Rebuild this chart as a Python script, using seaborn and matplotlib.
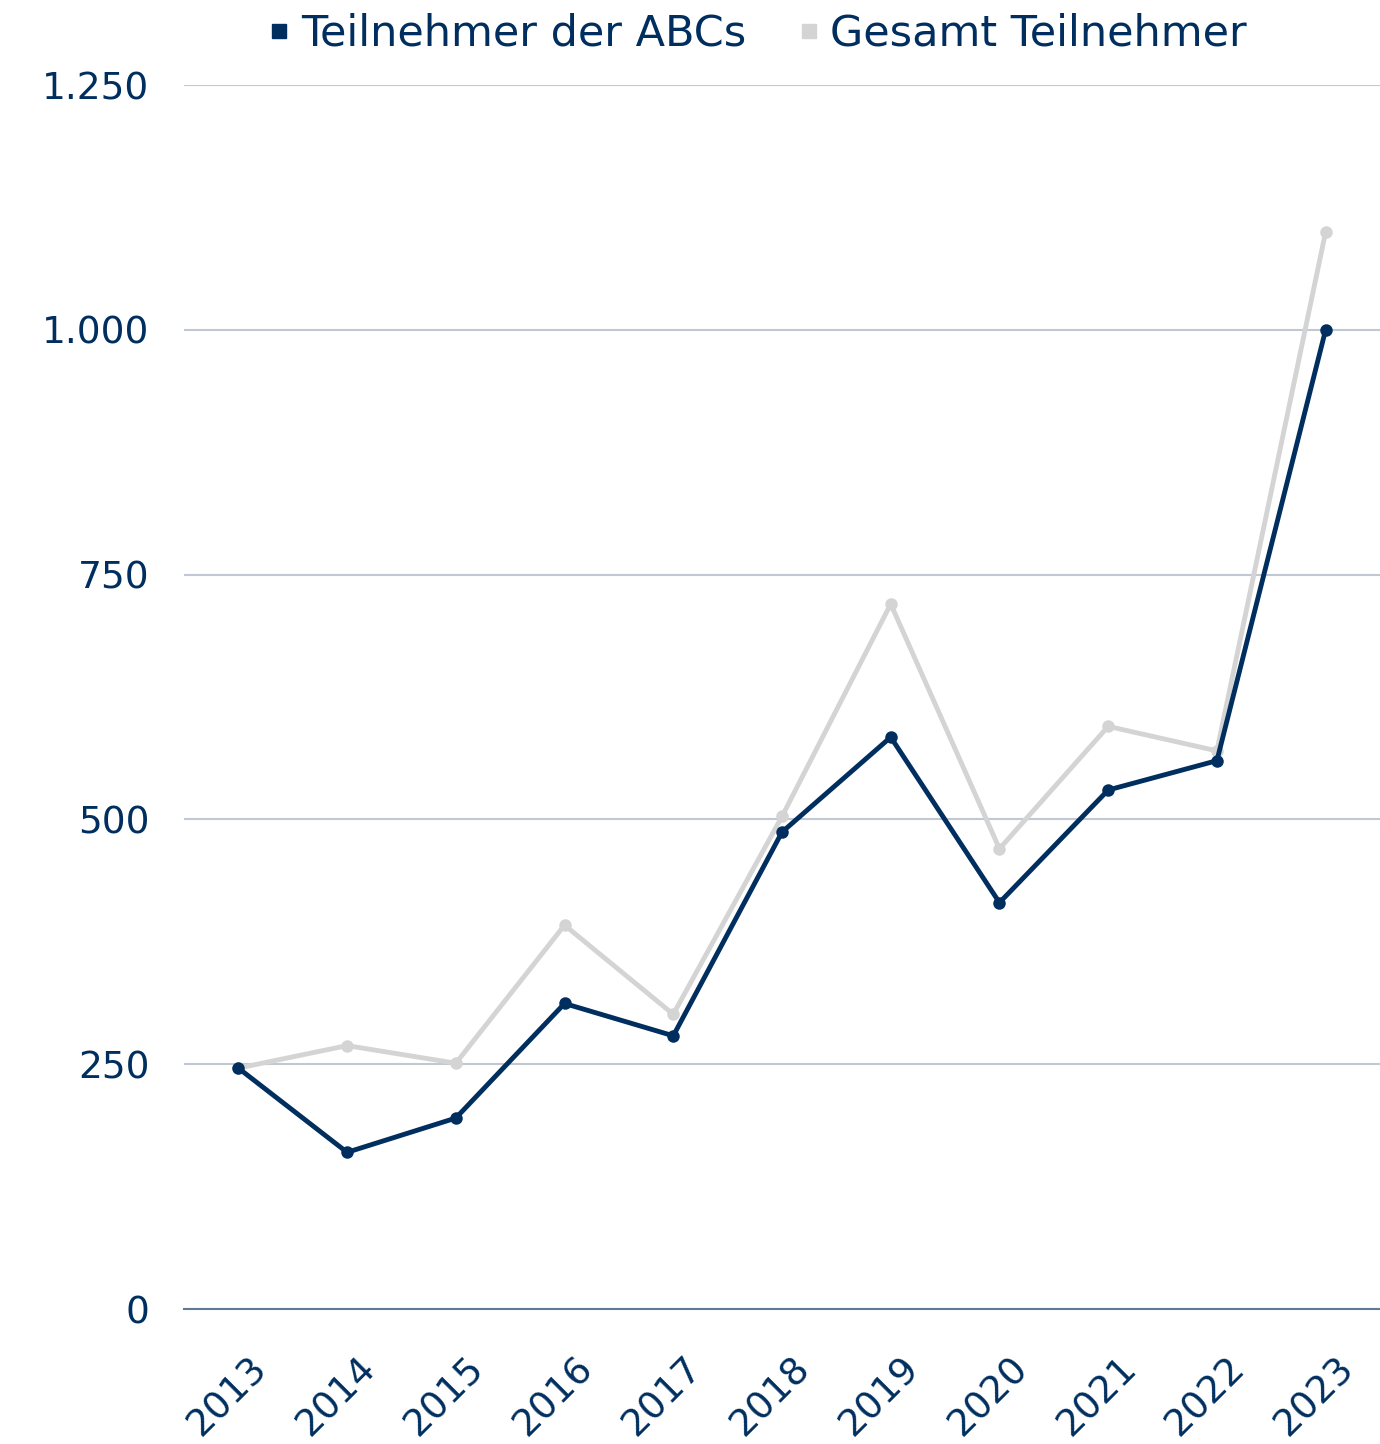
import seaborn as sns
import matplotlib.pyplot as plt
import matplotlib.ticker as mticker
import matplotlib.transforms as mtransforms
from matplotlib.lines import Line2D
import pandas as pd

years = [str(y) for y in range(2013, 2024)]
abc_teilnehmer = [246, 160, 195, 312, 279, 487, 584, 415, 530, 560, 1000]
gesamt_teilnehmer = [246, 269, 251, 392, 301, 503, 720, 470, 595, 570, 1100]

navy = "#002f5f"
grey = "#d4d4d4"

df = pd.DataFrame({
    "Jahr": years * 2,
    "Wert": gesamt_teilnehmer + abc_teilnehmer,
    "Serie": ["Gesamt Teilnehmer"] * len(years) + ["Teilnehmer der ABCs"] * len(years),
})

sns.set_style("white")
plt.rcParams["font.family"] = ["DejaVu Sans"]

fig = plt.figure(figsize=(13.8, 14.44), dpi=100)
ax = fig.add_axes([184 / 1380, 1 - 1309 / 1444, 1 - 184 / 1380, (1309 - 85) / 1444])

sns.lineplot(data=df, x="Jahr", y="Wert", hue="Serie",
             palette={"Gesamt Teilnehmer": grey, "Teilnehmer der ABCs": navy},
             marker="o", markersize=9, markeredgewidth=0, linewidth=3.5,
             legend=False, ax=ax)

ax.set_xlim(-0.5, 10.5)
ax.set_ylim(0, 1250)
ax.yaxis.set_major_locator(mticker.MultipleLocator(250))
ax.yaxis.set_major_formatter(mticker.FuncFormatter(lambda v, p: f"{int(v):,}".replace(",", ".")))
ax.grid(axis="y", color="#c0c8d4", linewidth=1.5)
ax.set_axisbelow(True)
for s in ["top", "right", "left"]:
    ax.spines[s].set_visible(False)
ax.spines["bottom"].set_color("#5f7a98")
ax.spines["bottom"].set_linewidth(1.5)
ax.tick_params(axis="both", length=0, labelsize=27, colors=navy)
ax.tick_params(axis="x", pad=30)
ax.tick_params(axis="y", pad=25)
offset = mtransforms.ScaledTranslation(0.1, 0, fig.dpi_scale_trans)
for lab in ax.get_xticklabels():
    lab.set_rotation(45)
    lab.set_ha("right")
    lab.set_rotation_mode("anchor")
    lab.set_transform(lab.get_transform() + offset)
ax.set_xlabel("")
ax.set_ylabel("")

handles = [
    Line2D([], [], marker="s", linestyle="", color=navy, markersize=10, label="Teilnehmer der ABCs"),
    Line2D([], [], marker="s", linestyle="", color=grey, markersize=10, label="Gesamt Teilnehmer"),
]
leg = fig.legend(handles=handles, loc="upper center", bbox_to_anchor=(0.546, 1.018), ncol=2,
                 frameon=False, fontsize=31, handletextpad=0.05, columnspacing=1.0,
                 handlelength=0.9)
for t in leg.get_texts():
    t.set_color(navy)

fig.savefig("out.png", dpi=100)
